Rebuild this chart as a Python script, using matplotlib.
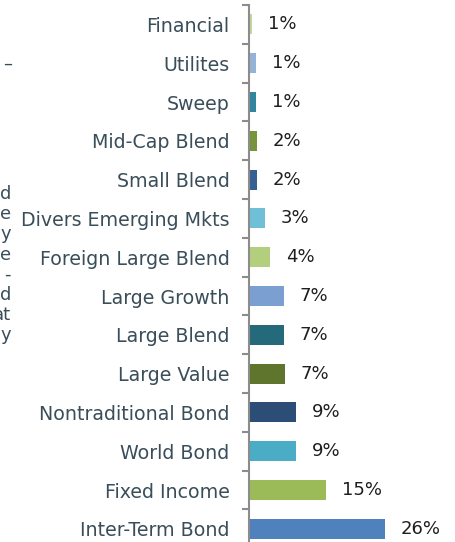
import matplotlib.pyplot as plt
import numpy as np

# data, top to bottom
categories = ['Financial', 'Utilites', 'Sweep', 'Mid-Cap Blend', 'Small Blend',
              'Divers Emerging Mkts', 'Foreign Large Blend', 'Large Growth',
              'Large Blend', 'Large Value', 'Nontraditional Bond', 'World Bond',
              'Fixed Income', 'Inter-Term Bond']
values = [0.5, 1.3, 1.3, 1.5, 1.5, 3.1, 4.0, 6.7, 6.7, 6.9, 9.0, 9.0, 14.8, 26.1]
value_labels = ['1%', '1%', '1%', '2%', '2%', '3%', '4%', '7%', '7%', '7%',
                '9%', '9%', '15%', '26%']
colors = ['#c3d69b', '#95b3d7', '#31859c', '#77933c', '#376092', '#6fc0d6',
          '#b3cf7e', '#7b9fd1', '#256a7a', '#5f752e', '#2c4d75', '#4bacc6',
          '#9bbb59', '#4f81bd']

# clipped text from the neighbouring block on the left
side_bits = ['d', 'e', 'y', 'e', '-', 'd', 'at', 'y']

txt_col = '#3a4e5a'
axis_col = '#8c8c8c'

plt.rcParams['font.family'] = 'DejaVu Sans'

W, H = 455, 542
fig = plt.figure(figsize=(W / 100, H / 100), dpi=100)
n = len(categories)
left = 249 / W
top = 1 - 5 / H
height = n * 38.8 / H
ax = fig.add_axes([left, top - height, 1 - left, height])

y = np.arange(n)
ax.barh(y, values, height=0.52, color=colors)
ax.set_ylim(n - 0.5, -0.5)
ax.set_xlim(0, (W - 249) / 5.2)

for yi, v, lab in zip(y, values, value_labels):
    ax.annotate(lab, (v, yi), xytext=(11.5, 0), textcoords='offset points',
                ha='left', va='center', fontsize=13, color='#1e1e1e')

ax.set_yticks(y)
ax.set_yticklabels(categories, fontsize=13.7, color=txt_col)
ax.set_yticks(np.arange(n + 1) - 0.5, minor=True)
ax.tick_params(axis='y', which='major', length=0, pad=14)
ax.tick_params(axis='y', which='minor', length=5, width=1.5, color=axis_col)

ax.xaxis.set_visible(False)
for s in ['top', 'right', 'bottom']:
    ax.spines[s].set_visible(False)
ax.spines['left'].set_color(axis_col)
ax.spines['left'].set_linewidth(1.5)

fig.text(12 / W, 1 - 64 / H, '–', ha='right', va='center', fontsize=13, color=txt_col)
for i, b in enumerate(side_bits):
    fig.text(11 / W, 1 - (194 + 20.2 * i) / H, b, ha='right', va='center',
             fontsize=13, color=txt_col)

fig.savefig('out.png', dpi=100)
